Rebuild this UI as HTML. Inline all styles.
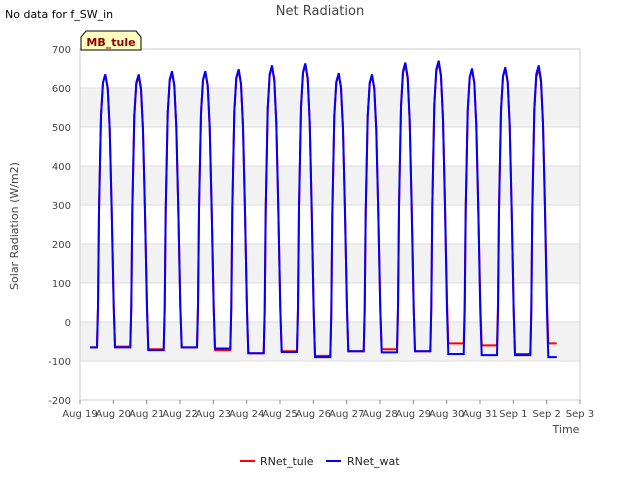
<!DOCTYPE html>
<html><head><meta charset="utf-8"><style>
body{margin:0;background:#fff;font-family:"Liberation Sans","DejaVu Sans",sans-serif}
text{font-family:"DejaVu Sans","Liberation Sans",sans-serif}
</style></head><body>
<svg id="chart" width="640" height="480" xmlns="http://www.w3.org/2000/svg">
<rect width="640" height="480" fill="#fff"/>
<text x="320" y="15" text-anchor="middle" font-size="13" fill="#444">Net Radiation</text>
<text x="5" y="18" font-size="11" fill="#000">No data for f_SW_in</text>
<g id="grid"></g>
<g id="axes"></g>
<g id="series"></g>
<g>
<path d="M81,50 L81,37 L86,31 L136,31 L141,37 L141,50 Z" fill="#ffffc0" stroke="#000" stroke-width="1"/>
<text x="111" y="46" text-anchor="middle" font-size="11" font-weight="bold" fill="#8b0000">MB_tule</text>
</g>
<text transform="translate(18,226) rotate(-90)" text-anchor="middle" font-size="11" fill="#444">Solar Radiation (W/m2)</text>
<text x="566" y="433" text-anchor="middle" font-size="11" fill="#444">Time</text>
<g>
<line x1="240" y1="461" x2="255" y2="461" stroke="#f00" stroke-width="2"/>
<text x="260" y="465" font-size="11" fill="#222">RNet_tule</text>
<line x1="326" y1="461" x2="341" y2="461" stroke="#00f" stroke-width="2"/>
<text x="347" y="465" font-size="11" fill="#222">RNet_wat</text>
</g>
</svg>
<script>
const xTickLabels=["Aug 19","Aug 20","Aug 21","Aug 22","Aug 23","Aug 24","Aug 25","Aug 26","Aug 27","Aug 28","Aug 29","Aug 30","Aug 31","Sep 1","Sep 2","Sep 3"];
const yTicks=[-200,-100,0,100,200,300,400,500,600,700];
const peaksWat=[635,635,643,643,648,658,663,638,635,665,670,650,653,658];
const peaksTule=[635,630,640,640,645,655,660,635,632,660,665,648,650,650];
const nightsWat=[-65,-65,-72,-65,-68,-80,-77,-90,-75,-78,-75,-82,-85,-85,-90];
const nightsTule=[-65,-63,-70,-65,-72,-80,-75,-87,-75,-70,-75,-55,-60,-82,-55];
const profOff=[0,0.03,0.06,0.12,0.18,0.25,0.32,0.38,0.44,0.5,0.54];
const profFrac=[0,0.15,0.5,0.85,0.97,1,0.95,0.8,0.5,0.15,0];
const X0=80,X1=580,Y0=400,Y1=49,yMin=-200,yMax=700,nDays=15;
const sx=d=>X0+(X1-X0)*d/nDays;
const sy=v=>Y0-(Y0-Y1)*(v-yMin)/(yMax-yMin);
const NS="http://www.w3.org/2000/svg";
function mk(tag,attrs,parent){const e=document.createElementNS(NS,tag);for(const k in attrs)e.setAttribute(k,attrs[k]);parent.appendChild(e);return e;}
const grid=document.getElementById('grid'),axes=document.getElementById('axes'),series=document.getElementById('series');
for(let i=0;i<yTicks.length-1;i++){
 if(i%2===1){const r=mk('rect',{x:X0,y:sy(yTicks[i+1]),width:X1-X0,height:sy(yTicks[i])-sy(yTicks[i+1]),fill:'#f2f2f2'},grid);
 
 }
}
yTicks.forEach(v=>{
 const l=mk('line',{x1:X0,x2:X1,y1:sy(v),y2:sy(v),stroke:'#ddd','stroke-width':1},grid);
 
 
 const t=mk('text',{x:X0-9,y:sy(v)+4,'text-anchor':'end','font-size':10,fill:'#444'},axes);
 t.textContent=v;
 
 
});
mk('rect',{x:X0,y:Y1,width:X1-X0,height:Y0-Y1,fill:'none',stroke:'#ccc'},grid);
xTickLabels.forEach((s,i)=>{
 mk('line',{x1:sx(i),x2:sx(i),y1:Y0,y2:Y0+4,stroke:'#888'},axes);
 const t=mk('text',{x:sx(i),y:Y0+17,'text-anchor':'middle','font-size':10,fill:'#444'},axes);
 t.textContent=s;
 
 
});
function build(peaks,nights){
 const pts=[[0.3,nights[0]]];
 for(let d=0;d<peaks.length;d++){
  const a=nights[d],b=nights[d+1];
  profOff.forEach((o,j)=>{const base=o<0.25?a:b;pts.push([d+0.51+o,base+(peaks[d]-base)*profFrac[j]]);});
 }
 pts.push([14.3,nights[nights.length-1]]);
 return pts.map((p,i)=>(i?'L':'M')+sx(p[0]).toFixed(1)+','+sy(p[1]).toFixed(1)).join(' ');
}
const pt=mk('path',{d:build(peaksTule,nightsTule),fill:'none',stroke:'#f00','stroke-width':2},series);


const pw=mk('path',{d:build(peaksWat,nightsWat),fill:'none',stroke:'#00f','stroke-width':2},series);


</script>
</body></html>
